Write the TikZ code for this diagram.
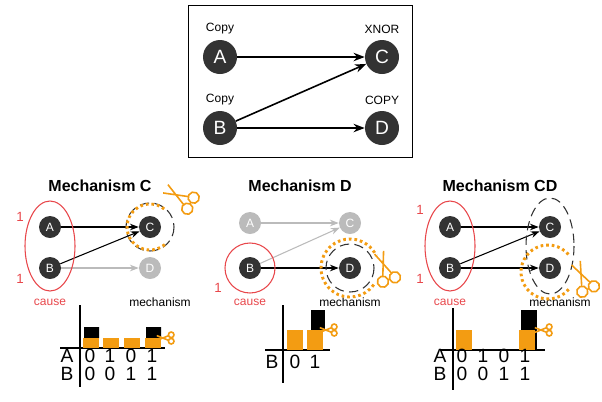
\documentclass[tikz,border=0pt]{standalone}
\usepackage{fontspec}
\setmainfont{Liberation Sans}
\usetikzlibrary{arrows.meta}
\definecolor{nodegray}{HTML}{333333}
\definecolor{fadegray}{HTML}{BBBBBB}
\definecolor{cutorange}{HTML}{F39C12}
\definecolor{causered}{HTML}{E8474B}
\begin{document}
\begin{tikzpicture}[x=0.75pt, y=-0.75pt,
    big/.style = {circle, fill=nodegray, text=white, minimum size=34*0.75pt, inner sep=0pt, font=\Large},
    el/.style = {circle, fill=nodegray, text=white, minimum size=22*0.75pt, inner sep=0pt, font=\small},
    faded/.style = {el, fill=fadegray},
    title/.style = {font=\large\bfseries},
    lbl/.style = {font=\small},
    tbl/.style = {font=\Large},
    dots/.style = {cutorange, line width=2.2pt, dash pattern=on 2pt off 2.2pt},
    mech/.style = {black!80, thick, dash pattern=on 7pt off 4pt},
    cause/.style = {causered, thick},
    bar/.style = {fill=cutorange, draw=none},
    pics/scissors/.style = {code={
        \draw[cutorange, line width=1.2pt] (-9,-4) circle (3.5) (-9,4) circle (3.5);
        \draw[cutorange, line width=1.2pt] (-6,-3) -- (9,3) (-6,3) -- (9,-3);}}]
\useasboundingbox (0,0) rectangle (602,401);

% top network
\draw (188,5) rectangle (412,157);
\node (a) [big] at (220,57) {A};
\node (c) [big] at (382,57) {C};
\node (b) [big] at (220,128) {B};
\node (d) [big] at (382,128) {D};
\node [lbl, above=1pt] at (a.north) {Copy};
\node [lbl, above=1pt] at (c.north) {XNOR};
\node [lbl, above=1pt] at (b.north) {Copy};
\node [lbl, above=1pt] at (d.north) {COPY};
\path[-Stealth, line width=1.2pt] (a) edge (c) (b) edge (c) (b) edge (d);

% mechanism C
\node [title] (tc) at (100,186) {Mechanism C};
\node (ca) [el] at (50,227) {A};
\node (cb) [el] at (50,268) {B};
\node (cc) [el] at (150,227) {C};
\node (cd) [faded] at (150,268) {D};
\path[-Stealth, thick] (ca) edge (cc) (cb) edge (cc);
\path[-Stealth, thick, fadegray] (cb) edge (cd);
\draw[cause] (50,246) ellipse (25 and 45);
\node [causered] at (20,217) {1};
\node [causered] at (20,279) {1};
\node [causered, lbl] at (50,302) {cause};
\node [lbl] at (160,302) {mechanism};
\draw[mech] (cc) circle (24);
\draw[dots] (cc) ++(50:23) arc (50:310:23);
\pic [rotate=150, scale=1.6] at (178,196) {scissors};
\draw[thick] (80,305) -- (80,387) (60,348) -- (165,348);
\fill (84,327) rectangle (99,338) (146,327) rectangle (161,338);
\foreach \x in {83,103,124,145} \fill[bar] (\x,338) rectangle ++(16,10);
\pic [rotate=180, scale=0.8] at (164,338) {scissors};
\node [tbl] at (67,356) {A};
\node [tbl] at (67,374) {B};
\foreach \x/\p/\q in {90/0/0,110/1/0,131/0/1,152/1/1} {
  \node [tbl] at (\x,356) {\p};
  \node [tbl] at (\x,374) {\q};}

% mechanism D
\node [title] (td) at (300,186) {Mechanism D};
\node (da) [faded] at (250,223) {A};
\node (dc) [faded] at (350,223) {C};
\node (db) [el] at (250,268) {B};
\node (dd) [el] at (350,268) {D};
\path[-Stealth, thick, fadegray] (da) edge (dc) (db) edge (dc);
\path[-Stealth, thick] (db) edge (dd);
\draw[cause] (db) circle (25);
\node [causered] at (218,288) {1};
\node [causered, lbl] at (250,302) {cause};
\node [lbl] at (350,302) {mechanism};
\draw[mech] (dd) circle (24);
\draw[dots] (dd) ++(35:29) arc (35:335:29);
\pic [rotate=110, scale=1.6] at (384,266) {scissors};
\draw[thick] (283,305) -- (283,383) (265,350) -- (330,350);
\fill (311,310) rectangle (325,330);
\foreach \x in {287,307} \fill[bar] (\x,330) rectangle ++(16,20);
\pic [rotate=180, scale=0.8] at (327,330) {scissors};
\node [tbl] at (272,362) {B};
\node [tbl] at (295,362) {0};
\node [tbl] at (315,362) {1};

% mechanism CD
\node [title] (tcd) at (500,186) {Mechanism CD};
\node (ea) [el] at (450,227) {A};
\node (eb) [el] at (450,268) {B};
\node (ec) [el] at (550,227) {C};
\node (ed) [el] at (550,268) {D};
\path[-Stealth, thick] (ea) edge (ec) (eb) edge (ec) (eb) edge (ed);
\draw[cause] (450,246) ellipse (25 and 45);
\node [causered] at (420,210) {1};
\node [causered] at (420,279) {1};
\node [causered, lbl] at (450,302) {cause};
\node [lbl] at (560,302) {mechanism};
\draw[mech] (550,246) ellipse (24 and 48);
\draw[dots] (548,272) ++(40:27) arc (40:320:27);
\pic [rotate=115, scale=1.6] at (582,276) {scissors};
\draw[thick] (453,308) -- (453,390) (440,350) -- (545,350);
\fill (521,310) rectangle (537,350);
\foreach \x in {456,519} \fill[bar] (\x,330) rectangle ++(16,20);
\pic [rotate=180, scale=0.8] at (542,330) {scissors};
\node [tbl] at (440,356) {A};
\node [tbl] at (440,374) {B};
\foreach \x/\p/\q in {462/0/0,483/1/0,504/0/1,525/1/1} {
  \node [tbl] at (\x,356) {\p};
  \node [tbl] at (\x,374) {\q};}
\end{tikzpicture}
\end{document}
